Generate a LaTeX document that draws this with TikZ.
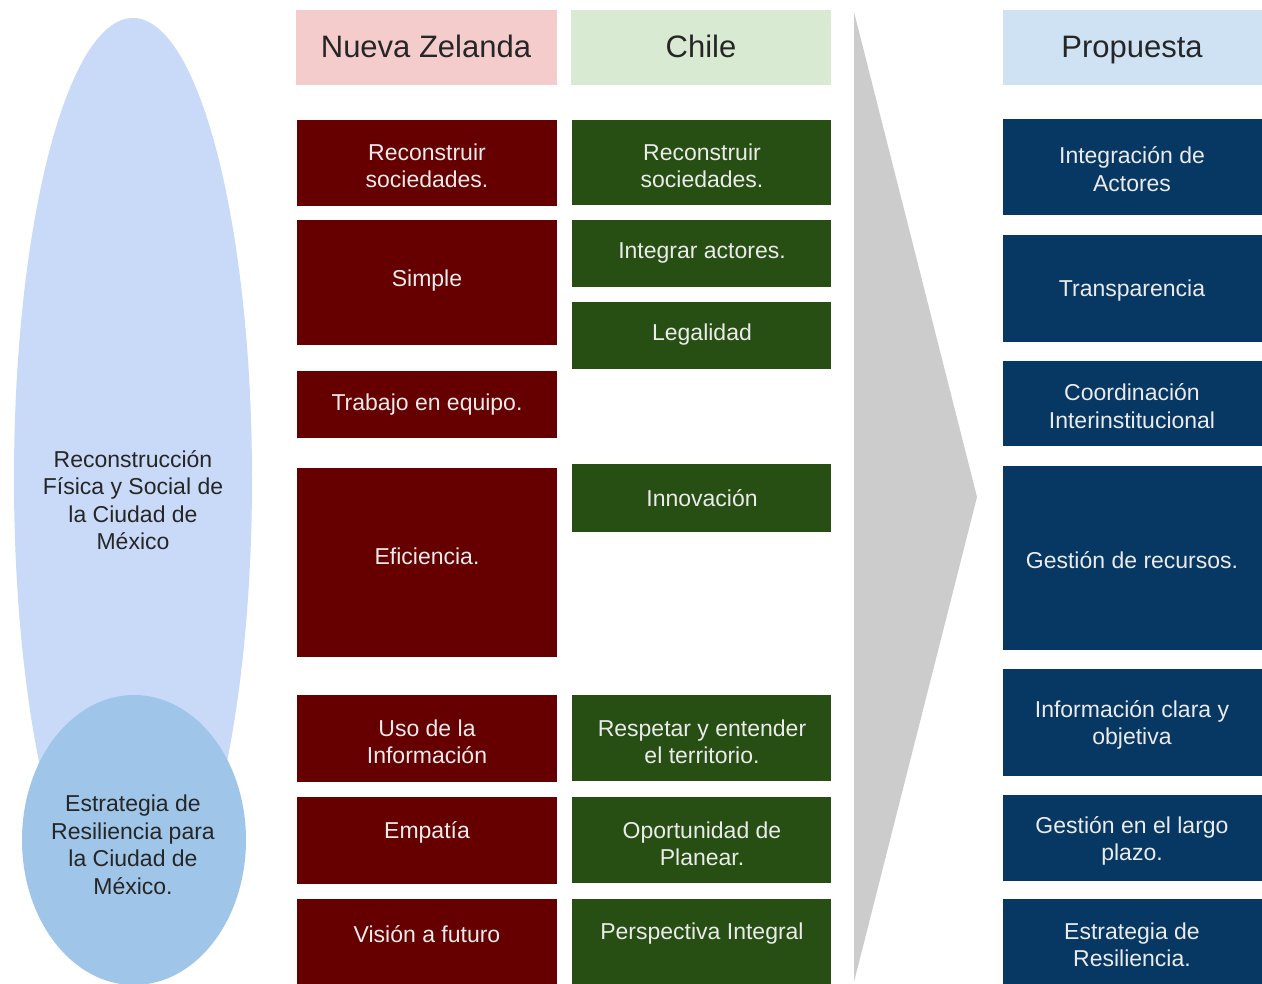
\documentclass[tikz,border=0pt]{standalone}
\usepackage{fontspec}
\setmainfont{Liberation Sans}
\definecolor{rojo}{HTML}{660000}
\definecolor{verde}{HTML}{274E13}
\definecolor{azul}{HTML}{073763}
\definecolor{rosa}{HTML}{F4CCCC}
\definecolor{verdec}{HTML}{D9EAD3}
\definecolor{azulc}{HTML}{CFE2F3}
\definecolor{elipseA}{HTML}{C9DAF8}
\definecolor{elipseB}{HTML}{9FC5E8}
\definecolor{gris}{HTML}{CCCCCC}
\begin{document}
\begin{tikzpicture}[x=1pt,y=-1pt,
    txt/.style={text=white!92!black,align=center,inner sep=0pt,font=\fontsize{23}{27.5}\selectfont},
    osc/.style={txt,text=black!85},
    tit/.style={text=black!85,inner sep=0pt,anchor=base,font=\fontsize{31}{34}\selectfont}]
  \clip (0,0) rectangle (1262,984);
  \fill[white] (0,0) rectangle (1262,984);
  % elipses
  \fill[elipseA] (133,479) ellipse [x radius=119, y radius=461];
  \fill[elipseB] (134,840) ellipse [x radius=112, y radius=145];
  \node[osc] (rec) at (133,500) {Reconstrucción\\Física y Social de\\la Ciudad de\\México};
  \node[osc] (est) at (133,845) {Estrategia de\\Resiliencia para\\la Ciudad de\\México.};
  % encabezados
  \fill[rosa] (296,10) rectangle (557,85);
  \fill[verdec] (571,10) rectangle (831,85);
  \fill[azulc] (1003,10) rectangle (1262,85);
  \node[tit] (nz) at (426,58) {Nueva Zelanda};
  \node[tit] (ch) at (701,58) {Chile};
  \node[tit] (pr) at (1132,58) {Propuesta};
  % Nueva Zelanda
  \fill[rojo] (297,120) rectangle (557,206);
  \fill[rojo] (297,220) rectangle (557,345);
  \fill[rojo] (297,371) rectangle (557,438);
  \fill[rojo] (297,468) rectangle (557,657);
  \fill[rojo] (297,695) rectangle (557,782);
  \fill[rojo] (297,797) rectangle (557,884);
  \fill[rojo] (297,899) rectangle (557,990);
  \node[txt] (nz1) at (427,166) {Reconstruir\\sociedades.};
  \node[txt] (nz2) at (427,281) {Simple};
  \node[txt] (nz3) at (427,405) {Trabajo en equipo.};
  \node[txt] (nz4) at (427,556) {Eficiencia.};
  \node[txt] (nz5) at (427,742) {Uso de la\\Información};
  \node[txt] (nz6) at (427,832) {Empatía};
  \node[txt] (nz7) at (427,934) {Visión a futuro};
  % Chile
  \fill[verde] (572,120) rectangle (831,205);
  \fill[verde] (572,220) rectangle (831,287);
  \fill[verde] (572,302) rectangle (831,369);
  \fill[verde] (572,464) rectangle (831,532);
  \fill[verde] (572,695) rectangle (831,781);
  \fill[verde] (572,797) rectangle (831,883);
  \fill[verde] (572,899) rectangle (831,990);
  \node[txt] (ch1) at (702,166) {Reconstruir\\sociedades.};
  \node[txt] (ch2) at (702,253) {Integrar actores.};
  \node[txt] (ch3) at (702,335) {Legalidad};
  \node[txt] (ch4) at (702,498) {Innovación};
  \node[txt] (ch5) at (702,742) {Respetar y entender\\el territorio.};
  \node[txt] (ch6) at (702,844) {Oportunidad de\\Planear.};
  \node[txt] (ch7) at (702,934) {Perspectiva Integral};
  % flecha
  \fill[gris] (854,12) -- (977,497) -- (854,982) -- cycle;
  % Propuesta
  \fill[azul] (1003,119) rectangle (1262,215);
  \fill[azul] (1003,235) rectangle (1262,342);
  \fill[azul] (1003,361) rectangle (1262,446);
  \fill[azul] (1003,466) rectangle (1262,650);
  \fill[azul] (1003,669) rectangle (1262,776);
  \fill[azul] (1003,795) rectangle (1262,881);
  \fill[azul] (1003,899) rectangle (1262,990);
  \node[txt] (pr1) at (1132,169) {Integración de\\Actores};
  \node[txt] (pr2) at (1132,291) {Transparencia};
  \node[txt] (pr3) at (1132,406) {Coordinación\\Interinstitucional};
  \node[txt] (pr4) at (1132,560) {Gestión de recursos.};
  \node[txt] (pr5) at (1132,725) {Información clara y\\objetiva};
  \node[txt] (pr6) at (1132,841) {Gestión en el largo\\plazo.};
  \node[txt] (pr7) at (1132,945) {Estrategia de\\Resiliencia.};
\end{tikzpicture}
\end{document}
